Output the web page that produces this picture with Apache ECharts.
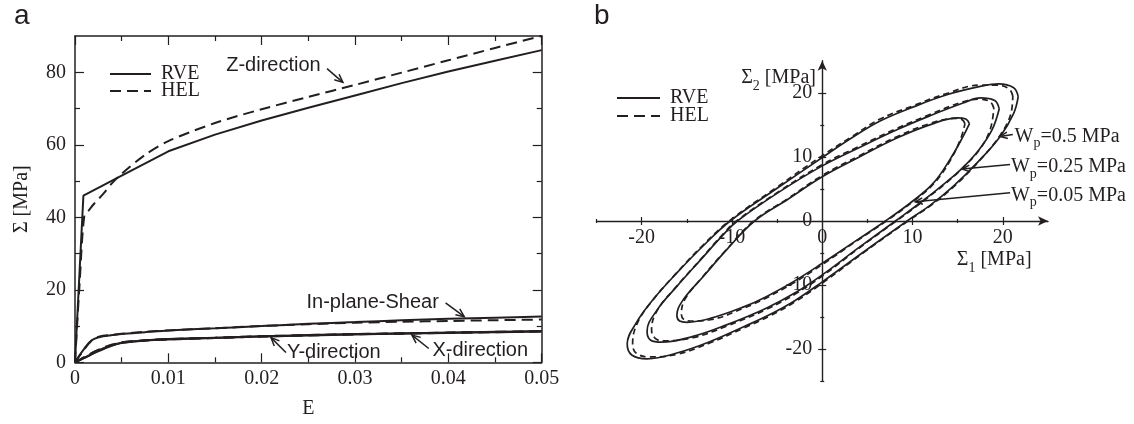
<!DOCTYPE html>
<html>
<head>
<meta charset="utf-8">
<title>RVE vs HEL</title>
<script src="https://cdn.jsdelivr.net/npm/echarts@6/dist/echarts.min.js"></script>
<style>
  html, body { margin: 0; padding: 0; background: #fff; }
  #chart { width: 1134px; height: 424px; }
</style>
</head>
<body>
<div id="chart"></div>
<script>
// ---- panel a: macroscopic stress vs strain ----
const strain = [0, 0.0005, 0.001, 0.0015, 0.002, 0.003, 0.004, 0.005, 0.0075, 0.01, 0.015, 0.02, 0.025, 0.03, 0.035, 0.04, 0.045, 0.05]
const zStrainRVE = [0, 0.0009, 0.005, 0.01, 0.015, 0.02, 0.025, 0.03, 0.035, 0.04, 0.045, 0.05]
const zRVE = [0, 46, 51.5, 58.2, 62.8, 66.7, 70.2, 73.6, 77.0, 80.2, 83.2, 86.1]
const zHEL = [0, 22, 40.5, 42.0, 43.6, 46.4, 49.5, 52.0, 57.2, 61.0, 66.0, 69.8, 73.2, 76.5, 79.9, 83.3, 86.7, 90.0]
const shearRVE = [0, 2.0, 3.8, 5.4, 6.4, 7.2, 7.5, 7.8, 8.3, 8.8, 9.4, 10.0, 10.6, 11.1, 11.6, 12.0, 12.3, 12.6]
const shearHEL = [0, 1.8, 3.6, 5.2, 6.5, 7.3, 7.6, 7.9, 8.4, 8.8, 9.4, 10.0, 10.5, 10.9, 11.2, 11.4, 11.6, 11.8]
const xDirRVE = [0, 0.6, 1.2, 1.8, 2.5, 3.6, 4.6, 5.3, 6.0, 6.4, 6.8, 7.2, 7.5, 7.8, 8.0, 8.2, 8.4, 8.6]
const xDirHEL = [0, 0.7, 1.4, 2.1, 2.8, 3.9, 4.8, 5.5, 6.1, 6.4, 6.8, 7.2, 7.5, 7.8, 8.0, 8.2, 8.4, 8.6]
const yDirRVE = [0, 0.6, 1.2, 1.9, 2.6, 3.8, 4.7, 5.4, 6.0, 6.3, 6.7, 7.1, 7.4, 7.7, 7.9, 8.1, 8.3, 8.5]
const yDirHEL = [0, 0.7, 1.4, 2.1, 2.9, 4.0, 4.9, 5.5, 6.0, 6.3, 6.7, 7.1, 7.4, 7.7, 7.9, 8.1, 8.3, 8.5]

const strainTicks = [0, 0.01, 0.02, 0.03, 0.04, 0.05]
const strainMinor = [0.005, 0.015, 0.025, 0.035, 0.045]
const stressTicks = [0, 20, 40, 60, 80]
const stressMinor = [10, 30, 50, 70]

// ---- panel b: yield loops in the (S1, S2) plane ----
const loop05RVE = [[21.7,19.4],[21.2,20.8],[19.5,21.4],[17.5,21.0],[13.8,19.7],[10.1,17.8],[6.4,15.6],[3.2,12.9],[0,9.9],[-5,5.1],[-10.2,0],[-13.2,-3.9],[-16.1,-8.1],[-18.7,-12.2],[-20.6,-15.9],[-21.6,-19.2],[-21.1,-20.9],[-19.4,-21.5],[-16.1,-20.6],[-12.4,-18.8],[-8.7,-16.5],[-5.8,-14.6],[-3.0,-12.4],[0,-9.5],[4.8,-4.6],[9.4,0],[11.9,2.4],[14.5,5.4],[17.3,9.3],[19.7,13.2],[21.2,16.8],[21.7,19.4]]
const loop05HEL = [[21.1,19.5],[20.7,20.6],[19.3,21.2],[17.5,21.2],[13.8,19.9],[10.1,18.0],[6.4,15.9],[3.2,13.1],[0,10.2],[-5,5.3],[-10.3,0],[-13.3,-3.9],[-16.2,-8.2],[-18.8,-12.4],[-20.5,-16.0],[-21.0,-19.2],[-20.6,-20.6],[-19.2,-21.2],[-16.1,-20.8],[-12.4,-19.0],[-8.7,-16.7],[-5.8,-14.8],[-3.0,-12.6],[0,-9.7],[4.8,-4.7],[9.5,0],[12.0,2.4],[14.6,5.4],[17.4,9.4],[19.7,13.4],[20.9,16.8],[21.1,19.5]]
const loop025RVE = [[19.6,17.5],[19.1,18.8],[17.5,19.2],[15.6,18.4],[11.9,16.4],[8.2,14.2],[4.0,11.4],[0,8.6],[-4.8,4.5],[-9.4,0],[-10.8,-1.9],[-13.5,-6.1],[-16.1,-10.2],[-18.3,-13.9],[-19.4,-17.2],[-19.0,-18.6],[-17.8,-18.9],[-14.3,-18.0],[-10.6,-16.2],[-6.2,-13.6],[-3.0,-11.2],[0,-8.4],[4.0,-4.2],[8.1,0],[11.0,3.0],[13.5,5.8],[15.4,8.1],[17.3,11.0],[18.8,14.2],[19.6,17.5]]
const loop025HEL = [[19.0,17.6],[18.6,18.6],[17.4,19.0],[15.6,18.6],[11.9,16.6],[8.2,14.4],[4.0,11.6],[0,8.8],[-4.8,4.6],[-9.5,0],[-10.9,-1.9],[-13.6,-6.2],[-16.2,-10.3],[-18.3,-14.0],[-18.9,-17.0],[-18.5,-18.3],[-17.6,-18.7],[-14.3,-18.2],[-10.6,-16.4],[-6.2,-13.8],[-3.0,-11.4],[0,-8.6],[4.0,-4.3],[8.2,0],[11.1,3.0],[13.6,5.8],[15.5,8.2],[17.4,11.1],[18.6,14.3],[19.0,17.6]]
const loop005RVE = [[16.3,15.2],[15.9,15.9],[15.0,16.1],[11.9,15.0],[8.2,12.9],[4.0,9.9],[0,6.9],[-3.8,3.4],[-7.5,0],[-10.6,-4.5],[-13.2,-8.7],[-15.4,-12.3],[-16.1,-14.7],[-15.8,-15.6],[-15.0,-15.8],[-12.4,-15.2],[-8.7,-13.4],[-6.2,-11.8],[-3.0,-9.3],[0,-6.6],[3.5,-3.3],[7.0,0],[10.1,3.2],[12.3,5.9],[14.1,9.5],[15.6,13.2],[16.3,15.2]]
const loop005HEL = [[15.8,15.2],[15.5,15.8],[14.8,16.0],[11.9,15.2],[8.2,13.1],[4.0,10.1],[0,7.1],[-3.8,3.5],[-7.6,0],[-10.7,-4.6],[-13.3,-8.8],[-15.2,-12.2],[-15.6,-14.6],[-15.3,-15.4],[-14.6,-15.6],[-12.4,-15.4],[-8.7,-13.6],[-6.2,-12.0],[-3.0,-9.5],[0,-6.8],[3.5,-3.4],[7.1,0],[10.2,3.2],[12.4,5.9],[14.2,9.5],[15.4,13.1],[15.8,15.2]]

const sigmaTicks = [-20, -10, 0, 10, 20]
const sigmaMajor = [-20, -10, 10, 20]
const sigmaMinor = [-25, -15, -5, 5, 15]

const INK = '#231f20'
const SERIF = 'Liberation Serif'
const SANS = 'Liberation Sans'

const pairs = (xs, ys) => xs.map((x, i) => [x, ys[i]])

// right panel box; its axes cross in the middle, so they are shifted in by half the box
const gridB = { left: 596.5, top: 60.75, width: 451.5, height: 320.5 }

// axis that only draws a set of ticks
function tickAxis(base, values, length, inside) {
  return Object.assign({}, base, {
    axisLine: { show: false, onZero: false },
    axisLabel: { show: false },
    axisTick: { show: true, inside, length, customValues: values, lineStyle: { color: INK, width: 1.2 } },
    splitLine: { show: false },
    name: ''
  })
}

const labelStyle = { fontFamily: SERIF, fontSize: 20, color: INK }

const aX = { type: 'value', gridIndex: 0, min: 0, max: 0.05, axisLine: { onZero: false, lineStyle: { color: INK, width: 1.5 } }, splitLine: { show: false } }
const aY = { type: 'value', gridIndex: 0, min: 0, max: 90, axisLine: { onZero: false, lineStyle: { color: INK, width: 1.5 } }, splitLine: { show: false } }
const bX = { type: 'value', gridIndex: 1, min: -25, max: 25, position: 'bottom', offset: -gridB.height / 2, axisLine: { onZero: false }, splitLine: { show: false } }
const bY = { type: 'value', gridIndex: 1, min: -25, max: 25, position: 'left', offset: -gridB.width / 2, axisLine: { onZero: false }, splitLine: { show: false } }

const xAxes = [
  Object.assign({}, aX, {
    position: 'bottom',
    axisLabel: Object.assign({ customValues: strainTicks, margin: 6, formatter: v => v === 0 ? '0' : String(v) }, labelStyle),
    axisTick: { inside: true, length: 9, customValues: strainTicks, lineStyle: { color: INK, width: 1.2 } },
    name: 'E', nameLocation: 'middle', nameGap: 36, nameTextStyle: labelStyle
  }),
  tickAxis(Object.assign({}, aX, { position: 'bottom' }), strainMinor, 5, true),
  Object.assign({}, aX, {
    position: 'top', axisLabel: { show: false },
    axisTick: { inside: true, length: 9, customValues: strainTicks, lineStyle: { color: INK, width: 1.2 } }
  }),
  tickAxis(Object.assign({}, aX, { position: 'top' }), strainMinor, 5, true),
  Object.assign({}, bX, {
    axisLine: { onZero: false, symbol: ['none', 'arrow'], symbolSize: [7, 10], lineStyle: { color: INK, width: 1.4 } },
    axisLabel: Object.assign({ customValues: sigmaTicks, margin: 7 }, labelStyle),
    axisTick: { inside: false, length: 4, customValues: sigmaMajor, lineStyle: { color: INK, width: 1.2 } }
  }),
  tickAxis(bX, sigmaMajor, 4, true),
  tickAxis(bX, sigmaMinor, 2, false),
  tickAxis(bX, sigmaMinor, 2, true)
]

const yAxes = [
  Object.assign({}, aY, {
    position: 'left',
    axisLabel: Object.assign({ customValues: stressTicks, margin: 9 }, labelStyle),
    axisTick: { inside: true, length: 9, customValues: stressTicks, lineStyle: { color: INK, width: 1.2 } },
    name: '\u03a3 [MPa]', nameLocation: 'middle', nameGap: 43, nameRotate: 90, nameTextStyle: labelStyle
  }),
  tickAxis(Object.assign({}, aY, { position: 'left' }), stressMinor, 5, true),
  Object.assign({}, aY, {
    position: 'right', axisLabel: { show: false },
    axisTick: { inside: true, length: 9, customValues: stressTicks, lineStyle: { color: INK, width: 1.2 } }
  }),
  tickAxis(Object.assign({}, aY, { position: 'right' }), stressMinor, 5, true),
  Object.assign({}, bY, {
    axisLine: { onZero: false, symbol: ['none', 'arrow'], symbolSize: [7, 10], lineStyle: { color: INK, width: 1.4 } },
    axisLabel: Object.assign({ customValues: sigmaTicks, margin: 10 }, labelStyle),
    axisTick: { inside: false, length: 4, customValues: sigmaMajor, lineStyle: { color: INK, width: 1.2 } }
  }),
  tickAxis(bY, sigmaMajor, 4, true),
  tickAxis(bY, sigmaMinor, 2, false),
  tickAxis(bY, sigmaMinor, 2, true)
]

function curve(name, data, axis, opts) {
  return Object.assign({
    name, type: 'line', data, xAxisIndex: axis, yAxisIndex: axis,
    symbol: 'none', smooth: 0.3, silent: true,
    lineStyle: { color: INK, width: 2, type: name === 'HEL' ? [11, 6] : 'solid' }
  }, opts || {})
}

const loopStyle = name => ({ color: INK, width: 1.7, type: name === 'HEL' ? [6, 4] : 'solid' })

const series = [
  curve('RVE', pairs(zStrainRVE, zRVE), 0, { smooth: false }),
  curve('HEL', pairs(strain, zHEL), 0),
  curve('RVE', pairs(strain, shearRVE), 0),
  curve('HEL', pairs(strain, shearHEL), 0),
  curve('RVE', pairs(strain, xDirRVE), 0),
  curve('HEL', pairs(strain, xDirHEL), 0),
  curve('RVE', pairs(strain, yDirRVE), 0),
  curve('HEL', pairs(strain, yDirHEL), 0),
  curve('RVE', loop05RVE, 4, { smooth: 0.4, lineStyle: loopStyle('RVE') }),
  curve('HEL', loop05HEL, 4, { smooth: 0.4, lineStyle: loopStyle('HEL') }),
  curve('RVE', loop025RVE, 4, { smooth: 0.4, lineStyle: loopStyle('RVE') }),
  curve('HEL', loop025HEL, 4, { smooth: 0.4, lineStyle: loopStyle('HEL') }),
  curve('RVE', loop005RVE, 4, { smooth: 0.4, lineStyle: loopStyle('RVE') }),
  curve('HEL', loop005HEL, 4, { smooth: 0.4, lineStyle: loopStyle('HEL') })
]

const legendBase = {
  data: ['RVE', 'HEL'], orient: 'vertical', itemHeight: 10,
  selectedMode: false, itemStyle: { opacity: 0 },
  textStyle: { fontFamily: SERIF, fontSize: 20, color: INK, padding: [0, 0, 0, 5] }
}

const chart = echarts.init(document.getElementById('chart'))
chart.setOption({
  animation: false,
  backgroundColor: '#fff',
  title: [
    { text: 'a', left: 9, top: -3, textStyle: { fontFamily: SANS, fontSize: 28, fontWeight: 'normal', color: INK } },
    { text: 'b', left: 589, top: -3, textStyle: { fontFamily: SANS, fontSize: 28, fontWeight: 'normal', color: INK } }
  ],
  legend: [
    Object.assign({}, legendBase, { left: 104, top: 59, itemWidth: 41, itemGap: -3 }),
    Object.assign({}, legendBase, { left: 611, top: 83, itemWidth: 43, itemGap: -2 })
  ],
  grid: [
    { left: 75, top: 36, width: 466.7, height: 326.3, outerBoundsMode: 'none' },
    Object.assign({ outerBoundsMode: 'none' }, gridB)
  ],
  xAxis: xAxes,
  yAxis: yAxes,
  series
})

// annotations, anchored in data coordinates
const notesA = [
  { text: 'Z-direction', at: [0.0162, 82.0], from: [0.0270, 81.0], to: [0.0287, 77.2] },
  { text: 'In-plane-Shear', at: [0.0248, 16.6], from: [0.0397, 16.4], to: [0.0417, 12.6] },
  { text: 'Y-direction', at: [0.0227, 2.8], from: [0.0226, 2.7], to: [0.0210, 6.8] },
  { text: 'X-direction', at: [0.0383, 3.2], from: [0.0379, 3.8], to: [0.0361, 7.5] }
]
const notesB = [
  { text: 'W{sub|p}=0.5 MPa', at: [21.3, 13.2], from: [21.1, 13.5], to: [19.7, 13.2] },
  { text: 'W{sub|p}=0.25 MPa', at: [20.9, 8.4], from: [20.8, 8.8], to: [15.5, 8.1] },
  { text: 'W{sub|p}=0.05 MPa', at: [20.9, 4.0], from: [20.8, 4.4], to: [10.3, 3.0] }
]

const toA = p => chart.convertToPixel({ xAxisIndex: 0, yAxisIndex: 0 }, p)
const toB = p => chart.convertToPixel({ xAxisIndex: 4, yAxisIndex: 4 }, p)

function arrow(p0, p1, head) {
  const dx = p1[0] - p0[0], dy = p1[1] - p0[1]
  const len = Math.hypot(dx, dy)
  const ux = -dx / len, uy = -dy / len
  const a = 0.42
  const l = [p1[0] + head * (ux * Math.cos(a) - uy * Math.sin(a)), p1[1] + head * (ux * Math.sin(a) + uy * Math.cos(a))]
  const r = [p1[0] + head * (ux * Math.cos(-a) - uy * Math.sin(-a)), p1[1] + head * (ux * Math.sin(-a) + uy * Math.cos(-a))]
  return [
    { type: 'line', silent: true, shape: { x1: p0[0], y1: p0[1], x2: p1[0], y2: p1[1] }, style: { stroke: INK, lineWidth: 1.5 } },
    { type: 'polyline', silent: true, shape: { points: [l, p1, r] }, style: { stroke: INK, fill: null, lineWidth: 1.5 } }
  ]
}

const subRich = { sub: { fontFamily: SERIF, fontSize: 14, padding: [14, 0, 0, 0] } }
const graphics = []
notesA.forEach(n => {
  const p = toA(n.at)
  graphics.push({ type: 'text', silent: true, style: { text: n.text, x: p[0], y: p[1], fill: INK, fontFamily: SANS, fontSize: 20, align: 'left', verticalAlign: 'middle' } })
  graphics.push(...arrow(toA(n.from), toA(n.to), 9))
})
notesB.forEach(n => {
  const p = toB(n.at)
  graphics.push({ type: 'text', silent: true, style: { text: n.text, x: p[0], y: p[1], fill: INK, fontFamily: SERIF, fontSize: 20, align: 'left', verticalAlign: 'middle', rich: subRich } })
  graphics.push(...arrow(toB(n.from), toB(n.to), 8))
})
const s2 = toB([-0.7, 22.3])
graphics.push({ type: 'text', silent: true, style: { text: '\u03a3{sub|2} [MPa]', x: s2[0], y: s2[1], fill: INK, fontFamily: SERIF, fontSize: 20, align: 'right', verticalAlign: 'middle', rich: { sub: { fontFamily: SERIF, fontSize: 14, padding: [16, 0, 0, 0] } } } })
const s1 = toB([14.9, -6.1])
graphics.push({ type: 'text', silent: true, style: { text: '\u03a3{sub|1} [MPa]', x: s1[0], y: s1[1], fill: INK, fontFamily: SERIF, fontSize: 20, align: 'left', verticalAlign: 'middle', rich: { sub: { fontFamily: SERIF, fontSize: 14, padding: [16, 0, 0, 0] } } } })

chart.setOption({ graphic: graphics })
</script>
</body>
</html>
